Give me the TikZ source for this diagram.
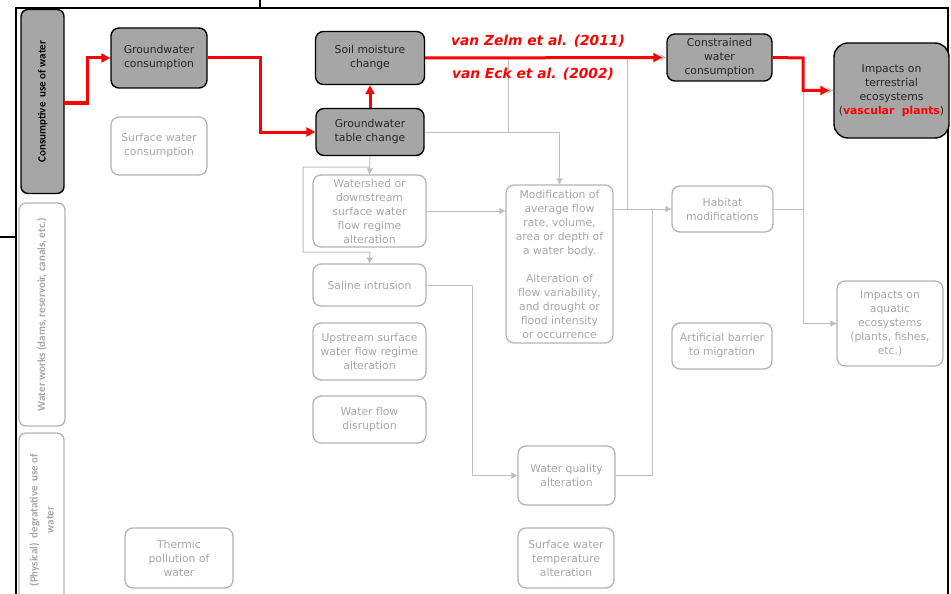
\documentclass[tikz,border=0pt]{standalone}
\usepackage{fontspec}
\setmainfont{DejaVu Sans}
\newfontfamily\calib{Carlito}
\usetikzlibrary{arrows.meta}
\definecolor{boxgray}{HTML}{A6A6A6}
\definecolor{lightline}{HTML}{B4B4B4}
\definecolor{lighttext}{HTML}{A8A8A8}
\definecolor{conn}{HTML}{BFBFBF}
\definecolor{darktext}{HTML}{262626}
\begin{document}
\begin{tikzpicture}[x=1pt,y=-1pt,
  boxfont/.style={font=\fontsize{10.8}{14}\selectfont},
  darkbox/.style={draw=black, line width=1.4pt, fill=boxgray, rounded corners=8pt,
    align=center, text=darktext, inner sep=0pt, boxfont},
  lightbox/.style={draw=lightline, line width=1.3pt, fill=white, rounded corners=8pt,
    align=center, text=lighttext, inner sep=0pt, boxfont},
  catdark/.style={draw=black, line width=1.4pt, fill=boxgray, rounded corners=7pt,
    rotate=90, align=center, inner sep=0pt, text=black,
    font=\calib\bfseries\fontsize{11}{13}\selectfont},
  catlight/.style={draw=lightline, line width=1.3pt, fill=white, rounded corners=7pt,
    rotate=90, align=center, inner sep=0pt, text=lighttext,
    font=\calib\bfseries\fontsize{11}{16}\selectfont},
  redarrow/.style={draw=red, line width=3pt, -{Triangle[length=9pt,width=9pt]}},
  grayline/.style={draw=conn, line width=1pt},
  grayarrow/.style={draw=conn, line width=1pt, -{Triangle[length=6pt,width=6pt]}},
  frame/.style={draw=black, line width=1.3pt},
  reflabel/.style={text=red, font=\bfseries\itshape\fontsize{13.8}{16}\selectfont, inner sep=0pt}
]
\useasboundingbox (0,0) rectangle (951,594);

% frame
\draw[frame] (16,594) -- (16,8) -- (948,8) -- (948,594);
\draw[frame] (260,0) -- (260,8);
\draw[frame] (0,237) -- (16,237);

% category boxes
\node[catdark, minimum width=184pt, minimum height=43pt] (cat1) at (42.5,101.5) {Consumptive\ \ use of water};
\node[catlight, minimum width=223pt, minimum height=46pt] (cat2) at (42,314.5) {Water works (dams,\ reservoir, canals,\ etc.)};
\node[catlight, minimum width=174pt, minimum height=45pt] (cat3) at (41.5,520) {(Physical)\ \ degratative\ \ use of\\water};

% dark nodes
\node[darkbox, minimum width=96pt, minimum height=60pt] (gwc) at (159,58) {Groundwater\\consumption};
\node[darkbox, minimum width=109pt, minimum height=53pt] (smc) at (370,58) {Soil moisture\\change};
\node[darkbox, minimum width=108pt, minimum height=47pt] (gwt) at (370,132) {Groundwater\\table change};
\node[darkbox, minimum width=105pt, minimum height=47pt] (cwc) at (719.5,57.5) {Constrained\\water\\consumption};
\node[darkbox, minimum width=115pt, minimum height=95pt, rounded corners=14pt] (ite) at (891.5,90.5)
  {Impacts on\\terrestrial\\ecosystems\\(\textcolor{red}{\bfseries vascular\ \ plants})};

% light nodes
\node[lightbox, minimum width=96pt, minimum height=58pt] (swc) at (159,146) {Surface water\\consumption};
\node[lightbox, minimum width=113pt, minimum height=72pt] (ws) at (369.5,211) {Watershed or\\downstream\\surface water\\flow regime\\alteration};
\node[lightbox, minimum width=113pt, minimum height=42pt] (sal) at (369.5,285) {Saline intrusion};
\node[lightbox, minimum width=113pt, minimum height=57pt] (ups) at (369.5,351.5) {Upstream surface\\water flow regime\\alteration};
\node[lightbox, minimum width=113pt, minimum height=47pt] (wfd) at (369.5,419.5) {Water flow\\disruption};
\node[lightbox, minimum width=107pt, minimum height=158pt] (mod) at (559.5,264)
  {Modification of\\average flow\\rate, volume,\\area or depth of\\a water body.\\[14pt]Alteration of\\flow variability,\\and drought or\\flood intensity\\or occurrence};
\node[lightbox, minimum width=97pt, minimum height=59pt] (wqa) at (566.5,475.5) {Water quality\\alteration};
\node[lightbox, minimum width=96pt, minimum height=60pt] (swt) at (566,558) {Surface water\\temperature\\alteration};
\node[lightbox, minimum width=108pt, minimum height=60pt] (thp) at (179,558) {Thermic\\pollution of\\water};
\node[lightbox, minimum width=101pt, minimum height=46pt] (hab) at (722.5,209) {Habitat\\modifications};
\node[lightbox, minimum width=100pt, minimum height=46pt] (abm) at (722,346) {Artificial barrier\\to migration};
\node[lightbox, minimum width=106pt, minimum height=85pt] (iae) at (890,323.5) {Impacts on\\aquatic\\ecosystems\\(plants, fishes,\\etc.)};

% junction coordinates
\coordinate (jA) at (508,132);
\coordinate (jB) at (508,58.5);
\coordinate (jC) at (627,58.5);
\coordinate (jD) at (627,209);
\coordinate (jE) at (652,209);
\coordinate (jF) at (803,209);
\coordinate (jG) at (803,90.5);
\coordinate (jH) at (370,167);
\coordinate (jI) at (303,167);
\coordinate (jJ) at (303,252);
\coordinate (jK) at (370,252);
\coordinate (jL) at (472,285);
\coordinate (c1) at (64,103);

% gray connectors
\draw[grayarrow] (gwt.east) -| (mod.north);
\draw[grayline] (jA) -- (jB) -- (jC) -- (jD);
\draw[grayarrow] (mod.east |- hab.west) -- (hab.west);
\draw[grayline] (wqa.east) -| (jE);
\draw[grayline] (hab.east) -- (jF);
\draw[grayarrow] (jG) |- (iae.west);
\draw[grayarrow] (gwt.south) -- (ws.north);
\draw[grayarrow] (jH) -- (jI) -- (jJ) -- (jK) -- (sal.north);
\draw[grayarrow] (ws.east) -- (mod.west |- ws.east);
\draw[grayarrow] (sal.east) -- (jL) |- (wqa.west);
\draw[grayarrow] ([xshift=-20pt]cwc.west) -- (cwc.west);
\draw[grayarrow] ([xshift=-20pt]ite.west) -- (ite.west);

% red connectors
\draw[redarrow] (c1) -- (87,103) |- (gwc.west);
\draw[redarrow] (gwc.east) -- (260,58) |- (gwt.west);
\draw[redarrow] (gwt.north) -- (smc.south);
\draw[redarrow, shorten >=4pt] (smc.east) -- (cwc.west);
\draw[redarrow, shorten >=4pt] (cwc.east) -- (803,58) |- (ite.west);

% reference labels
\node[reflabel] (lz) at (538,41) {van Zelm et al. (2011)};
\node[reflabel] (le) at (533,74) {van Eck et al. (2002)};
\end{tikzpicture}
\end{document}
